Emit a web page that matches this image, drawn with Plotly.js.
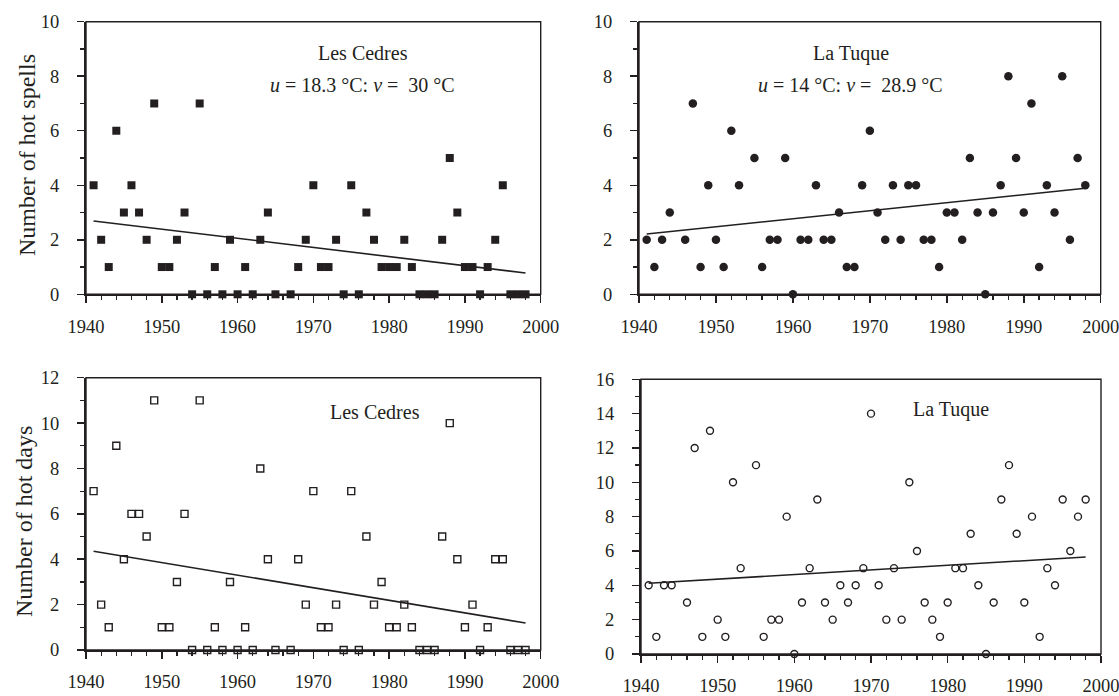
<!DOCTYPE html>
<html>
<head>
<meta charset="utf-8">
<script src="https://cdn.plot.ly/plotly-3.0.1.min.js"></script>
<style>html,body{margin:0;padding:0;background:#fff;}#chart{width:1119px;height:696px;}</style>
</head>
<body>
<div id="chart"></div>
<script>
// ---- Data ----
const cedresYears = [1941,1942,1943,1944,1945,1946,1947,1948,1949,1950,1951,1952,1953,1954,1955,1956,1957,1958,1959,1960,1961,1962,1963,1964,1965,
  1967,1968,1969,1970,1971,1972,1973,1974,1975,1976,1977,1978,1979,1980,1981,1982,1983,1984,1985,1986,1987,1988,1989,1990,1991,1992,1993,1994,1995,1996,1997,1998];
const cedresSpells = [4,2,1,6,3,4,3,2,7,1,1,2,3,0,7,0,1,0,2,0,1,0,2,3,0,
  0,1,2,4,1,1,2,0,4,0,3,2,1,1,1,2,1,0,0,0,2,5,3,1,1,0,1,2,4,0,0,0];
const cedresDays = [7,2,1,9,4,6,6,5,11,1,1,3,6,0,11,0,1,0,3,0,1,0,8,4,0,
  0,4,2,7,1,1,2,0,7,0,5,2,3,1,1,2,1,0,0,0,5,10,4,1,2,0,1,4,4,0,0,0];

const tuqueYears = [1941,1942,1943,1944,1946,1947,1948,1949,1950,1951,1952,1953,
  1955,1956,1957,1958,1959,1960,1961,1962,1963,1964,1965,1966,1967,1968,1969,1970,1971,1972,1973,1974,1975,1976,1977,1978,1979,
  1980,1981,1982,1983,1984,1985,1986,1987,1988,1989,1990,1991,1992,1993,1994,1995,1996,1997,1998];
const tuqueSpells = [2,1,2,3,2,7,1,4,2,1,6,4,
  5,1,2,2,5,0,2,2,4,2,2,3,1,1,4,6,3,2,4,2,4,4,2,2,1,
  3,3,2,5,3,0,3,4,8,5,3,7,1,4,3,8,2,5,4];
const tuqueDays = [4,1,4,4,3,12,1,13,2,1,10,5,
  11,1,2,2,8,0,3,5,9,3,2,4,3,4,5,14,4,2,5,2,10,6,3,2,1,
  3,5,5,7,4,0,3,9,11,7,3,8,1,5,4,9,6,8,9];

// Trend lines (end points)
const trendYears = [1941, 1998];
const cedresSpellsTrend = [2.69, 0.78];
const tuqueSpellsTrend = [2.21, 3.89];
const cedresDaysTrend = [4.35, 1.19];
const tuqueDaysTrend = [4.12, 5.65];

// Labels
const stationA = "Les Cedres";
const stationB = "La Tuque";
const threshA = "<i>u</i> = 18.3 °C: <i>v</i> =\u00a0 30 °C";
const threshB = "<i>u</i> = 14 °C: <i>v</i> =\u00a0 28.9 °C";
const yTitleTop = "Number of hot spells";
const yTitleBottom = "Number of hot days";

// ---- Layout helpers ----
const W = 1119, H = 696;
const FONT = "Liberation Serif, Times New Roman, serif";
const INK = "#231f20";
const px = v => v / W;
const py = v => (H - v) / H;

function xAxis(l, r, anchor) {
  return {
    domain: [px(l), px(r)], anchor: anchor, range: [1940, 2000],
    dtick: 10, tick0: 1940, ticks: "outside", ticklen: 7, tickwidth: 1.5, tickcolor: INK,
    minor: {dtick: 2, tick0: 1940, ticks: "outside", ticklen: 4, tickwidth: 1.3, tickcolor: INK},
    showline: true, linewidth: 2, linecolor: INK, showgrid: false, zeroline: false,
    tickfont: {family: FONT, size: 18.5, color: INK}, ticklabelstandoff: 7,
    ticklabeloverflow: "allow",
    fixedrange: true, layer: "below traces"
  };
}
function yAxis(b, t, anchor, max) {
  return {
    domain: [py(b), py(t)], anchor: anchor, range: [0, max],
    dtick: 2, tick0: 0, ticks: "outside", ticklen: 7, tickwidth: 1.5, tickcolor: INK,
    minor: {dtick: 1, tick0: 0, ticks: "outside", ticklen: 4, tickwidth: 1.3, tickcolor: INK},
    showline: true, linewidth: 2, linecolor: INK, showgrid: false, zeroline: false,
    tickfont: {family: FONT, size: 18.5, color: INK}, ticklabelstandoff: 14,
    ticklabeloverflow: "allow",
    fixedrange: true, layer: "below traces"
  };
}

function pts(x, y, xa, ya, marker) {
  return {x: x, y: y, xaxis: xa, yaxis: ya, type: "scatter", mode: "markers",
    marker: marker, cliponaxis: false, showlegend: false, hoverinfo: "x+y"};
}
function trend(x, y, xa, ya) {
  return {x: x, y: y, xaxis: xa, yaxis: ya, type: "scatter", mode: "lines",
    line: {color: INK, width: 1.6}, showlegend: false, hoverinfo: "skip"};
}

const data = [
  trend(trendYears, cedresSpellsTrend, "x", "y"),
  pts(cedresYears, cedresSpells, "x", "y", {symbol: "square", size: 8, color: INK}),
  trend(trendYears, tuqueSpellsTrend, "x2", "y2"),
  pts(tuqueYears, tuqueSpells, "x2", "y2", {symbol: "circle", size: 8.5, color: INK}),
  trend(trendYears, cedresDaysTrend, "x3", "y3"),
  pts(cedresYears, cedresDays, "x3", "y3", {symbol: "square-open", size: 7, color: INK, line: {width: 1.4, color: INK}}),
  trend(trendYears, tuqueDaysTrend, "x4", "y4"),
  pts(tuqueYears, tuqueDays, "x4", "y4", {symbol: "circle-open", size: 7, color: INK, line: {width: 1.4, color: INK}})
];

function border(xa, ya) {
  return {type: "rect", xref: xa + " domain", yref: ya + " domain", x0: 0, x1: 1, y0: 0, y1: 1,
    line: {color: INK, width: 1.4}, fillcolor: "rgba(0,0,0,0)", layer: "below"};
}
function note(text, x, y, size) {
  return {text: text, xref: "paper", yref: "paper", x: px(x), y: py(y), xanchor: "center", yanchor: "middle",
    showarrow: false, font: {family: FONT, size: size, color: INK}};
}

const layout = {
  width: W, height: H, margin: {l: 0, r: 0, t: 0, b: 0},
  paper_bgcolor: "#ffffff", plot_bgcolor: "#ffffff",
  font: {family: FONT, color: INK},
  xaxis: xAxis(86, 540.7, "y"),
  yaxis: yAxis(294.3, 21.7, "x", 10),
  xaxis2: xAxis(639, 1100.7, "y2"),
  yaxis2: yAxis(294.3, 21.7, "x2", 10),
  xaxis3: xAxis(86, 540.7, "y3"),
  yaxis3: yAxis(650, 377.7, "x3", 12),
  xaxis4: xAxis(641, 1101, "y4"),
  yaxis4: yAxis(654, 379.3, "x4", 16),
  shapes: [border("x", "y"), border("x2", "y2"), border("x3", "y3"), border("x4", "y4")],
  annotations: [
    note(stationA, 362.8, 53.3, 20),
    note(threshA, 362.5, 85, 20),
    note(stationB, 851, 53.3, 20),
    note(threshB, 850.3, 85, 20),
    note(stationA, 374.5, 411.7, 20),
    note(stationB, 951, 409.3, 20),
    Object.assign(note(yTitleTop, 27, 155, 24), {textangle: -90}),
    Object.assign(note(yTitleBottom, 24, 522, 24), {textangle: -90})
  ]
};

Plotly.newPlot("chart", data, layout, {displayModeBar: false, staticPlot: true});
</script>
</body>
</html>
